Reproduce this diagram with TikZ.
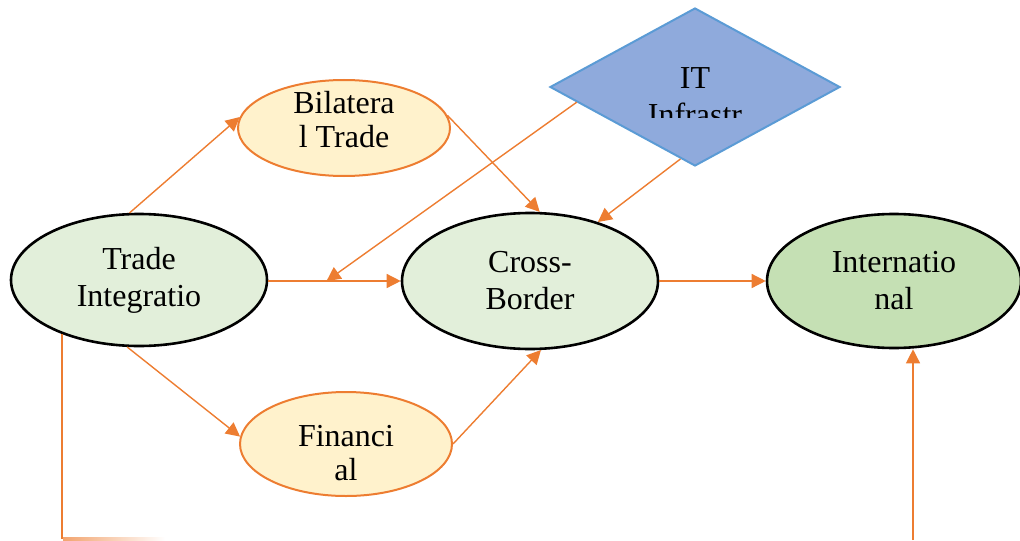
\documentclass[tikz,border=0pt]{standalone}
\usepackage{fontspec}
\setmainfont{Liberation Serif}
\usetikzlibrary{shapes.geometric,arrows.meta,calc}
\definecolor{accent}{HTML}{ED7D31}
\definecolor{paleorange}{HTML}{FFF2CC}
\definecolor{palegreen}{HTML}{E2EFDA}
\definecolor{midgreen}{HTML}{C5E0B4}
\definecolor{itfill}{HTML}{8FAADC}
\definecolor{itdraw}{HTML}{5B9BD5}
\tikzset{
  lbl/.style={font=\fontsize{16pt}{18.5pt}\selectfont, align=center},
  sublbl/.style={font=\fontsize{16pt}{17pt}\selectfont, align=center},
  mainell/.style={ellipse, draw=black, line width=1.3pt, inner sep=0pt, lbl},
  subell/.style={ellipse, draw=accent, fill=paleorange, line width=1pt, inner sep=0pt},
  link/.style={draw=accent, line width=0.7pt, -{Triangle[length=7pt,width=7pt]}},
}
\begin{document}
\begin{tikzpicture}[x=0.5pt,y=-0.5pt]
  \clip (0,0) rectangle (1020,540);

  % main chain of ellipses
  \node[mainell, fill=palegreen, minimum width=128pt, minimum height=66pt] (ti) at (139,280) {Trade\\Integratio};
  \node[mainell, fill=palegreen, minimum width=128pt, minimum height=68pt] (cb) at (530,281) {Cross-\\Border};
  \node[mainell, fill=midgreen, minimum width=127pt, minimum height=67pt] (intl) at (894,281) {Internatio\\nal};

  % intermediate channels, labels set a little off centre
  \node[subell, minimum width=106pt, minimum height=48pt] (bil) at (344,128) {};
  \node[sublbl] (biltxt) at (344,120) {Bilatera\\l Trade};
  \node[subell, minimum width=106pt, minimum height=52pt] (fin) at (346,444) {};
  \node[sublbl] (fintxt) at (346,453) {Financi\\al};

  % IT infrastructure diamond with its clipped label
  \node[diamond, draw=itdraw, fill=itfill, line width=1pt, inner sep=0pt,
        minimum width=145pt, minimum height=79pt] (it) at (695,87) {};
  \begin{scope}
    \clip (600,40) rectangle (790,117);
    \node[lbl] (itlbl) at (695,97) {IT\\Infrastr};
  \end{scope}

  % connectors
  \draw[link] (ti.98) -- (bil.174);
  \draw[link] (bil.7) -- (cb.82);
  \draw[link] (ti.east |- cb.west) -- (cb.west);
  \coordinate (m) at ($(ti.east |- cb.west)!0.44!(cb.west)$);
  \draw[link] ($(it.west)!0.19!(it.south)$) -- (m);
  \draw[link] ($(it.west)!0.9!(it.south)$) -- (cb.41);
  \draw[link] (ti.260) -- (fin.176);
  \draw[link] (fin.east) -- (cb.279);
  \draw[link] (cb.east) -- (cb.east -| intl.west);

  % lines running off the lower edge
  \coordinate (c1) at (63,539);
  \coordinate (c2) at (913,540);
  \draw[draw=accent, line width=0.7pt] (ti.215) -- (ti.215 |- c1);
  \shade[left color=accent!70, right color=white] (63,537.5) rectangle (165,540);
  \draw[link] (c2) -- (c2 |- intl.south);
\end{tikzpicture}
\end{document}
